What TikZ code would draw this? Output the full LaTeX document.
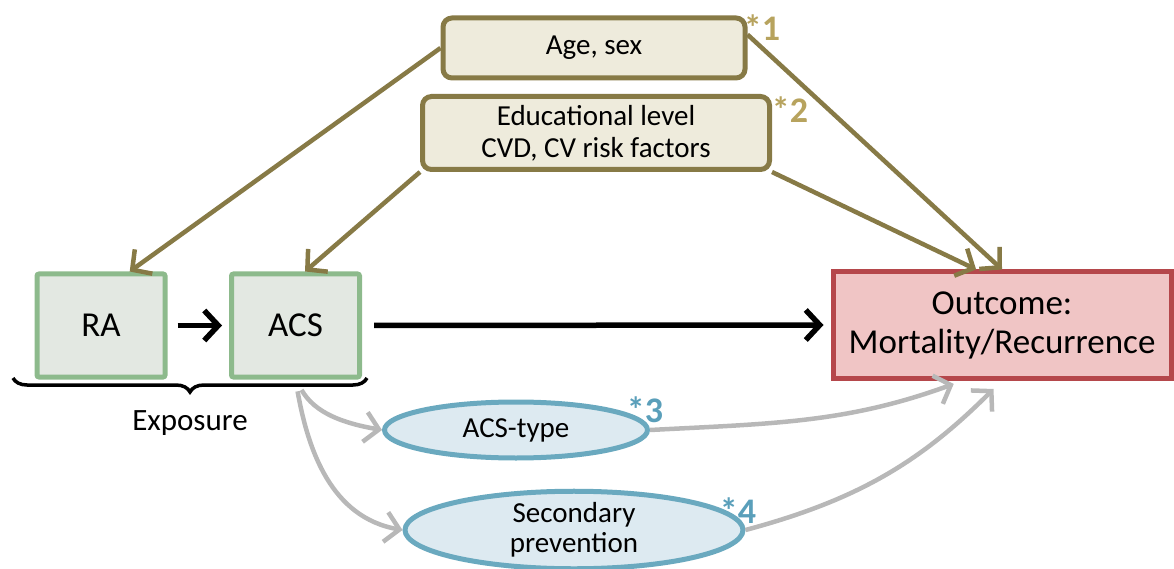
\documentclass[tikz,border=0pt]{standalone}
\usepackage{fontspec}
\setmainfont{Carlito}
\usetikzlibrary{arrows.meta,shapes.geometric,decorations.pathreplacing}

\definecolor{confline}{HTML}{877A46}
\definecolor{conffill}{HTML}{EEEBDC}
\definecolor{confstar}{HTML}{B7A35E}
\definecolor{expline}{HTML}{8DBA8C}
\definecolor{expfill}{HTML}{E3E8E2}
\definecolor{outline}{HTML}{B5474B}
\definecolor{outfill}{HTML}{F0C5C5}
\definecolor{medline}{HTML}{6AA9BF}
\definecolor{medfill}{HTML}{DDEAF1}
\definecolor{medstar}{HTML}{5A9FBA}
\definecolor{medarrow}{HTML}{B8B8B8}

\tikzset{
  confbox/.style={draw=confline, fill=conffill, line width=5pt, rounded corners=9pt,
    align=center, font=\fontsize{29}{32}\selectfont},
  expbox/.style={draw=expline, fill=expfill, line width=5pt, rounded corners=2pt,
    minimum width=128pt, minimum height=103pt, font=\fontsize{35}{40}\selectfont},
  medell/.style={ellipse, draw=medline, fill=medfill, line width=5pt, inner sep=0pt,
    align=center, font=\fontsize{29}{30}\selectfont},
  starlab/.style={font=\bfseries\fontsize{36}{36}\selectfont},
  confarrow/.style={draw=confline, line width=4.5pt, -{Straight Barb[length=14pt,width=30pt]}},
  mainarrow/.style={draw=black, line width=5.5pt, -{Straight Barb[length=14pt,width=30pt]}},
  medarr/.style={draw=medarrow, line width=4.5pt, -{Straight Barb[length=14pt,width=30pt]}}
}

\begin{document}
\begin{tikzpicture}[x=1pt,y=1pt]
\useasboundingbox (0,0) rectangle (1174,568);

\node[confbox, minimum width=302pt, minimum height=60pt] (age) at (594,520) {Age, sex};
\node[confbox, minimum width=347pt, minimum height=73pt] (edu) at (596,435) {Educational level\\CVD, CV risk factors};
\node[starlab, text=confstar] (s1) at (762,540) {*1};
\node[starlab, text=confstar] (s2) at (790,458) {*2};

\node[expbox] (ra) at (101,242.5) {RA};
\node[expbox] (acs) at (295.5,242.5) {ACS};
\node[draw=outline, fill=outfill, line width=5pt, minimum width=338pt, minimum height=106pt,
  align=center, font=\fontsize{35}{39}\selectfont] (out) at (1002,243) {Outcome:\\Mortality/Recurrence};

\draw[line width=3.5pt, decorate, decoration={brace, amplitude=14pt}] (367,190) -- (13,190);
\node[font=\fontsize{31}{34}\selectfont] (expo) at (190,145) {Exposure};

\node[medell, minimum width=263pt, minimum height=56pt] (type) at (516,138) {ACS-type};
\node[medell, minimum width=338pt, minimum height=76pt] (sec) at (574,38) {Secondary\\prevention};
\node[starlab, text=medstar] (s3) at (645,158) {*3};
\node[starlab, text=medstar] (s4) at (738,57) {*4};

\draw[confarrow] (age.west) -- (ra.62);
\draw[confarrow] (age.5) -- (out.north);
\draw[confarrow] (edu.south west) -- (acs.80);
\draw[confarrow] (edu.south east) -- (out.115);

\draw[mainarrow, shorten <=10pt, shorten >=7pt] (ra.east) -- (acs.west);
\draw[mainarrow, shorten <=12pt, shorten >=7pt] (acs.east) -- (out.west);

\draw[medarr, shorten <=12pt] (acs.south) to[out=-60,in=170] (type.west);
\draw[medarr, shorten <=12pt] (acs.south) to[out=-80,in=170] (sec.west);
\draw[medarr, shorten >=10pt] (type.east) to[out=3,in=200] (out.-125);
\draw[medarr, shorten >=12pt] (sec.east) to[out=15,in=225] (out.south);
\end{tikzpicture}
\end{document}
